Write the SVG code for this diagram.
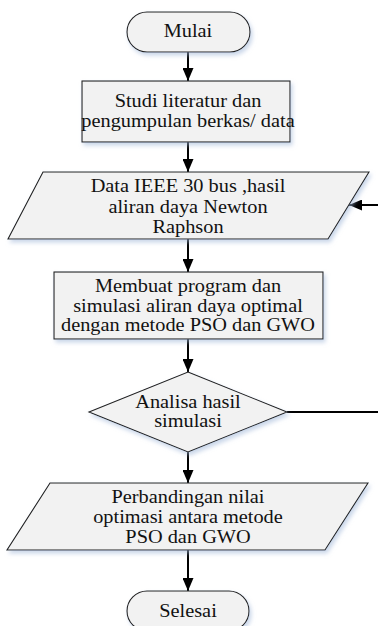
<svg xmlns="http://www.w3.org/2000/svg" width="378" height="626" viewBox="0 0 378 626">
<defs>
<filter id="sh" x="-10%" y="-10%" width="130%" height="140%">
<feDropShadow dx="2" dy="3" stdDeviation="2" flood-color="#9fb6d8" flood-opacity="0.55"/>
</filter>
<marker id="ah" markerWidth="13" markerHeight="11" refX="13" refY="5.5" orient="auto" markerUnits="userSpaceOnUse">
<path d="M0,0 L13,5.5 L0,11 Z" fill="#000"/>
</marker>
</defs>
<style>
.s{fill:#f2f2f2;stroke:#222;stroke-width:1.1;filter:url(#sh)}
.c{stroke:#000;stroke-width:2;fill:none}
</style>
<rect width="378" height="626" fill="#fff"/>
<g id="connectors">
<line class="c" x1="188" y1="52" x2="188" y2="81" marker-end="url(#ah)"/>
<line class="c" x1="188" y1="142" x2="188" y2="172" marker-end="url(#ah)"/>
<line class="c" x1="378" y1="205" x2="349" y2="205" marker-end="url(#ah)"/>
<line class="c" x1="188" y1="239" x2="188" y2="272" marker-end="url(#ah)"/>
<line class="c" x1="188" y1="339" x2="188" y2="372" marker-end="url(#ah)"/>
<line class="c" x1="287" y1="412" x2="378" y2="412"/>
<line class="c" x1="188" y1="452" x2="188" y2="483" marker-end="url(#ah)"/>
<line class="c" x1="188" y1="550" x2="188" y2="591" marker-end="url(#ah)"/>
</g>
<g font-family="'Liberation Serif', serif" font-size="18" fill="#111" text-anchor="middle">
<g id="mulai">
<rect class="s" x="127" y="12" width="123" height="40" rx="20"/>
<g transform="translate(188,0) scale(1.13,1)"><text font-family="'Liberation Serif', serif" x="0" y="37">Mulai</text></g>
</g>
<g id="studi">
<rect class="s" x="82" y="81" width="208" height="61"/>
<g transform="translate(188,0) scale(1.13,1)">
<text font-family="'Liberation Serif', serif" x="0" y="107">Studi literatur dan</text>
<text font-family="'Liberation Serif', serif" x="0" y="127">pengumpulan berkas/ data</text>
</g>
</g>
<g id="data">
<polygon class="s" points="43,172 369,172 328,239 8,239"/>
<g transform="translate(188,0) scale(1.13,1)">
<text font-family="'Liberation Serif', serif" x="0" y="192">Data IEEE 30 bus ,hasil</text>
<text font-family="'Liberation Serif', serif" x="0" y="213">aliran daya Newton</text>
<text font-family="'Liberation Serif', serif" x="0" y="233">Raphson</text>
</g>
</g>
<g id="program">
<rect class="s" x="54" y="272" width="269" height="67"/>
<g transform="translate(188,0) scale(1.13,1)">
<text font-family="'Liberation Serif', serif" x="0" y="292">Membuat program dan</text>
<text font-family="'Liberation Serif', serif" x="0" y="312">simulasi aliran daya optimal</text>
<text font-family="'Liberation Serif', serif" x="0" y="331">dengan metode PSO dan GWO</text>
</g>
</g>
<g id="analisa">
<polygon class="s" points="188,372 287,412 188,452 89,412"/>
<g transform="translate(188,0) scale(1.13,1)">
<text font-family="'Liberation Serif', serif" x="0" y="408">Analisa hasil</text>
<text font-family="'Liberation Serif', serif" x="0" y="427">simulasi</text>
</g>
</g>
<g id="perbandingan">
<polygon class="s" points="50,483 368,483 325,550 7,550"/>
<g transform="translate(188,0) scale(1.13,1)">
<text font-family="'Liberation Serif', serif" x="0" y="503">Perbandingan nilai</text>
<text font-family="'Liberation Serif', serif" x="0" y="523">optimasi antara metode</text>
<text font-family="'Liberation Serif', serif" x="0" y="543">PSO dan GWO</text>
</g>
</g>
<g id="selesai">
<rect class="s" x="127" y="591" width="122" height="40" rx="20"/>
<g transform="translate(188,0) scale(1.13,1)"><text font-family="'Liberation Serif', serif" x="0" y="617">Selesai</text></g>
</g>
</g>
</svg>
